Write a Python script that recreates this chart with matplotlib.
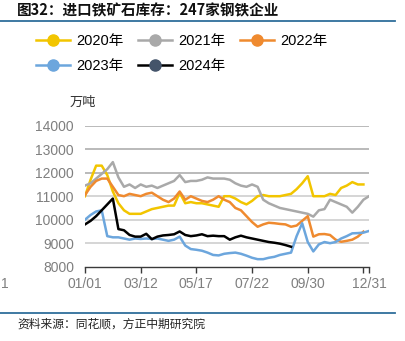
import matplotlib
matplotlib.use("Agg")
import matplotlib.pyplot as plt
from matplotlib.lines import Line2D
import numpy as np

plt.rcParams['font.family'] = ['Liberation Sans', 'Noto Sans CJK SC', 'DejaVu Sans']

# weekly stock, 10k tonnes
y2020 = [11000, 11700, 12300, 12300, 11900, 11200, 10700, 10400, 10250, 10250,
         10250, 10350, 10450, 10500, 10550, 10600, 10600, 11150, 10700, 10750,
         10700, 10700, 10650, 10600, 10550, 11000, 11000, 10900, 10750, 10650,
         10800, 11000, 11050, 11000, 11000, 11000, 11050, 11100, 11300, 11550,
         11850, 11000, 11000, 11000, 11100, 11050, 11350, 11450, 11600, 11500,
         11500]
y2021 = [11450, 11550, 11750, 11950, 12150, 12450, 11800, 11400, 11500, 11350,
         11500, 11400, 11450, 11350, 11450, 11550, 11650, 11900, 11600, 11650,
         11650, 11700, 11800, 11750, 11750, 11750, 11700, 11550, 11450, 11400,
         11500, 11400, 10850, 10700, 10600, 10500, 10450, 10400, 10350, 10300,
         10250, 10130, 10400, 10450, 10850, 10750, 10650, 10550, 10300, 10550,
         10850, 11000]
y2022 = [11050, 11400, 11650, 11750, 11750, 11400, 11050, 11000, 11100, 11050,
         11000, 11100, 11150, 11000, 10850, 10750, 10900, 11200, 10850, 11000,
         10900, 10800, 10750, 10850, 11000, 10850, 10750, 10500, 10400, 10150,
         9900, 9700, 9800, 9870, 9850, 9820, 9800, 9700, 9750, 9950,
         10150, 9280, 9380, 9390, 9350, 9150, 9060, 9100, 9150, 9280,
         9490]
y2023 = [10000, 10200, 10350, 10400, 9300, 9250, 9250, 9200, 9150, 9200,
         9180, 9200, 9180, 9200, 9150, 9100, 9150, 9280, 8900, 8750,
         8720, 8680, 8600, 8500, 8480, 8550, 8580, 8600, 8550, 8470,
         8380, 8320, 8320, 8380, 8420, 8500, 8550, 8600, 9300, 9850,
         9050, 8650, 8950, 9050, 9000, 9050, 9200, 9300, 9420, 9430,
         9450, 9520]
y2024 = [9800, 9950, 10150, 10400, 10650, 10900, 9600, 9550, 9350, 9280,
         9280, 9400, 9170, 9280, 9330, 9350, 9380, 9500, 9350, 9300,
         9330, 9380, 9300, 9320, 9300, 9300, 9150, 9250, 9320, 9250,
         9200, 9150, 9100, 9050, 9020, 8980, 8920, 8850]

series = [("2020年", y2020, "#f2c500", "#f2c500"),
          ("2021年", y2021, "#a9a9a9", "#a9a9a9"),
          ("2022年", y2022, "#ef8a2f", "#ef8a2f"),
          ("2023年", y2023, "#6ca6dd", "#6ca6dd"),
          ("2024年", y2024, "#000000", "#44546a")]

tick_pos = [0, 10, 20, 30, 40, 50, 51]
tick_lab = ["01/01", "03/12", "05/17", "07/22", "09/30", "", "12/31"]
yticks = [8000, 9000, 10000, 11000, 12000, 13000, 14000]

W, H = 405, 341
fig = plt.figure(figsize=(W / 100, H / 100), dpi=100)
ax = fig.add_axes([85 / W, 1 - 266.7 / H, 284 / W, 141 / H])

# gridlines: upper ones a bit darker than lower ones (as in reference)
for v in yticks[1:]:
    c = "#b4b4b4" if v >= 12000 else "#d2d2d2"
    ax.axhline(v, color=c, lw=1.3, zorder=0)

for name, ys, c, mc in series:
    ax.plot(np.arange(len(ys)), ys, color=c, lw=1.8, zorder=2)

ax.set_xlim(0, 51)
ax.set_ylim(8000, 14000)
ax.set_yticks(yticks)
ax.set_xticks(tick_pos)
ax.set_xticklabels(tick_lab)
for s in ["top", "right", "left"]:
    ax.spines[s].set_visible(False)
ax.spines["bottom"].set_color("#3a3a3a")
ax.spines["bottom"].set_linewidth(1.0)
ax.tick_params(axis="y", length=0, pad=8, labelsize=10, labelcolor="#7f7f7f")
ax.tick_params(axis="x", length=4.5, width=1.0, color="#3a3a3a", pad=3,
               labelsize=10, labelcolor="#7f7f7f")

fig.text(70 / W, 1 - 102 / H, "万吨", fontsize=9.5, color="#333333", va="center",
         family=["Noto Sans CJK SC"])

handles = [Line2D([], [], color=c, lw=1.8, marker="o", markersize=8,
                  markerfacecolor=mc, markeredgecolor=mc) for _, _, c, mc in series]
labels = [s[0] for s in series]
# legend fills column by column; reorder so rows read 2020-2022 / 2023-2024
order = [0, 3, 1, 4, 2]
fig.legend([handles[k] for k in order], [labels[k] for k in order],
           loc="upper left", bbox_to_anchor=(36 / W, 1 - 34 / H),
           ncol=3, frameon=False, fontsize=10.5, handlelength=2.3,
           handletextpad=0.45, columnspacing=1.0, labelspacing=0.75,
           borderaxespad=0, borderpad=0)

# header / footer
fig.text(17 / W, 1 - 10 / H, "图32：进口铁矿石库存：247家钢铁企业", fontsize=10.5,
         fontweight="bold", va="center", color="#111111",
         family=["Noto Sans CJK SC"])
fig.add_artist(Line2D([0, 395 / W], [1 - 21 / H, 1 - 21 / H], color="#2f6e9b", lw=1.3))
fig.add_artist(Line2D([0, 395 / W], [1 - 312.7 / H, 1 - 312.7 / H], color="#2f6e9b", lw=1.3))
fig.text(17 / W, 1 - 324 / H, "资料来源：同花顺，方正中期研究院", fontsize=8.5,
         va="center", color="#222222", style="italic",
         family=["Noto Sans CJK SC"])
fig.text(1 / W, 1 - 284 / H, "1", fontsize=10, color="#7f7f7f", va="center")

fig.savefig("out.png", dpi=100)
